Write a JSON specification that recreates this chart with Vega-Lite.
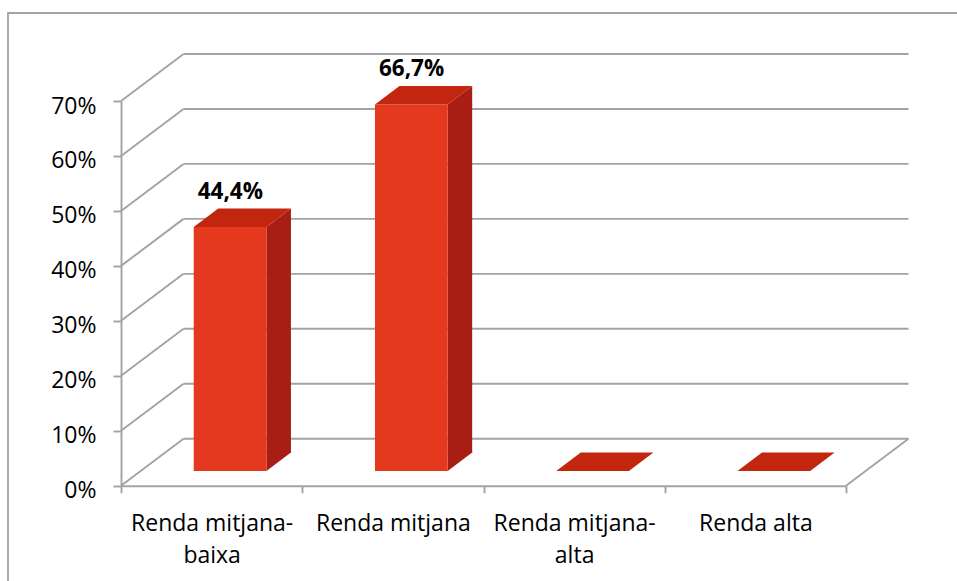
{
"$schema":"https://vega.github.io/schema/vega-lite/v6.json",
"width":950,"height":569,
"autosize":{"type":"none"},
"padding":{"left":8,"top":13,"right":-1,"bottom":-1},
"background":"white",
"config":{"view":{"stroke":"#a3a3a3","strokeWidth":1.8,"fill":null},
"locale":{"number":{"decimal":",","thousands":".","grouping":[3],"currency":["","€"]}}},
"datasets":{
"bars":[{"cat":"Renda mitjana-baixa","value":0.444},{"cat":"Renda mitjana","value":0.667},{"cat":"Renda mitjana-alta","value":0},{"cat":"Renda alta","value":0}],
"grid":[{"pct":0},{"pct":0.1},{"pct":0.2},{"pct":0.3},{"pct":0.4},{"pct":0.5},{"pct":0.6},{"pct":0.7}],
"floor":[{"pct":0}]
},
"layer":[
{"data":{"name":"grid"},
 "mark":{"type":"rule","stroke":"#a3a3a3","strokeWidth":1.9,"xOffset":-28.1,"x2Offset":153.1,"yOffset":-47},
 "encoding":{
  "x":{"datum":"Renda mitjana-baixa","type":"nominal","title":null,"sort":null,"scale":{"domain":["Renda mitjana-baixa","Renda mitjana","Renda mitjana-alta","Renda alta"],"range":[113,838],"padding":0},
   "axis":{"orient":"bottom","offset":-96.3,"title":null,"domainColor":"#a3a3a3","domainWidth":1.9,"tickColor":"#a3a3a3","tickWidth":1.9,"tickSize":7,"tickBand":"extent","labelAngle":0,"labelFont":"Open Sans","labelFontSize":23,"labelColor":"#000000","labelPadding":20,"labelLineHeight":31.5,"labelLimit":400,"grid":false,"labelExpr":"datum.value=='Renda mitjana-baixa'?['Renda mitjana-','baixa']:datum.value=='Renda mitjana-alta'?['Renda mitjana-','alta']:datum.value"}},
  "x2":{"datum":"Renda alta"},
  "y":{"field":"pct","type":"quantitative","title":null,"scale":{"domain":[0,0.7],"range":[472.7,88],"nice":false,"zero":false},
   "axis":{"orient":"left","offset":-113,"title":null,"values":[0,0.1,0.2,0.3,0.4,0.5,0.6,0.7],"format":".0%","domainColor":"#a3a3a3","domainWidth":1.9,"tickColor":"#a3a3a3","tickWidth":1.9,"tickSize":8,"labelFont":"Open Sans","labelFontSize":23,"labelColor":"#000000","labelPadding":17,"labelOffset":5,"grid":false}}
 }},
{"data":{"name":"grid"},
 "mark":{"type":"rule","stroke":"#a3a3a3","strokeWidth":1.9,"xOffset":-90.6,"x2Offset":-28.1,"y2Offset":-47},
 "encoding":{
  "x":{"datum":"Renda mitjana-baixa","type":"nominal","title":null,"sort":null,"scale":{"domain":["Renda mitjana-baixa","Renda mitjana","Renda mitjana-alta","Renda alta"],"range":[113,838],"padding":0}},
  "x2":{"datum":"Renda mitjana-baixa"},
  "y":{"field":"pct","type":"quantitative","title":null,"scale":{"domain":[0,0.7],"range":[472.7,88],"nice":false,"zero":false}},
  "y2":{"field":"pct"}
 }},
{"data":{"name":"floor"},
 "mark":{"type":"rule","stroke":"#a3a3a3","strokeWidth":1.9,"xOffset":90.6,"x2Offset":153.1,"y2Offset":-47},
 "encoding":{
  "x":{"datum":"Renda alta","type":"nominal","title":null,"sort":null,"scale":{"domain":["Renda mitjana-baixa","Renda mitjana","Renda mitjana-alta","Renda alta"],"range":[113,838],"padding":0}},
  "x2":{"datum":"Renda alta"},
  "y":{"field":"pct","type":"quantitative","title":null,"scale":{"domain":[0,0.7],"range":[472.7,88],"nice":false,"zero":false}},
  "y2":{"field":"pct"}
 }},
{"data":{"name":"bars"},"transform":[{"filter":"datum.value>0"}],
 "mark":{"type":"bar","color":"#a81d14","size":24.5,"xOffset":67.05,"yOffset":-14.7,"y2Offset":-33.2},
 "encoding":{
  "x":{"field":"cat","type":"nominal","title":null,"sort":null,"scale":{"domain":["Renda mitjana-baixa","Renda mitjana","Renda mitjana-alta","Renda alta"],"range":[113,838],"padding":0}},
  "y":{"field":"value","type":"quantitative","title":null,"scale":{"domain":[0,0.7],"range":[472.7,88],"nice":false,"zero":false}},
  "y2":{"datum":0}
 }},
{"data":{"name":"bars"},"transform":[{"filter":"datum.value>0"}],
 "mark":{"type":"point","filled":true,"opacity":1,"size":4,"color":"#a81d14","shape":"M54.8,-14.7L79.3,-33.2L79.3,-34.5L54.8,-34.5Z"},
 "encoding":{
  "x":{"field":"cat","type":"nominal","title":null,"sort":null,"scale":{"domain":["Renda mitjana-baixa","Renda mitjana","Renda mitjana-alta","Renda alta"],"range":[113,838],"padding":0}},
  "y":{"datum":0,"type":"quantitative","title":null,"scale":{"domain":[0,0.7],"range":[472.7,88],"nice":false,"zero":false}}
 }},
{"data":{"name":"bars"},"transform":[{"filter":"datum.value>0"}],
 "mark":{"type":"point","filled":true,"opacity":1,"size":4,"color":"#a81d14","shape":"M54.8,-14.7L54.8,-13.4L79.3,-13.4L79.3,-33.2Z"},
 "encoding":{
  "x":{"field":"cat","type":"nominal","title":null,"sort":null,"scale":{"domain":["Renda mitjana-baixa","Renda mitjana","Renda mitjana-alta","Renda alta"],"range":[113,838],"padding":0}},
  "y":{"field":"value","type":"quantitative","title":null,"scale":{"domain":[0,0.7],"range":[472.7,88],"nice":false,"zero":false}}
 }},
{"data":{"name":"bars"},"transform":[{"filter":"datum.value>0"}],
 "mark":{"type":"bar","color":"#e4381f","size":72.7,"xOffset":18.45,"yOffset":-14.7,"y2Offset":-14.7},
 "encoding":{
  "x":{"field":"cat","type":"nominal","title":null,"sort":null,"scale":{"domain":["Renda mitjana-baixa","Renda mitjana","Renda mitjana-alta","Renda alta"],"range":[113,838],"padding":0}},
  "y":{"field":"value","type":"quantitative","title":null,"scale":{"domain":[0,0.7],"range":[472.7,88],"nice":false,"zero":false}},
  "y2":{"datum":0}
 }},
{"data":{"name":"bars"},
 "mark":{"type":"point","filled":true,"opacity":1,"size":4,"color":"#c3260f","shape":"M-17.9,-14.7L54.8,-14.7L79.3,-33.2L6.6,-33.2Z"},
 "encoding":{
  "x":{"field":"cat","type":"nominal","title":null,"sort":null,"scale":{"domain":["Renda mitjana-baixa","Renda mitjana","Renda mitjana-alta","Renda alta"],"range":[113,838],"padding":0}},
  "y":{"field":"value","type":"quantitative","title":null,"scale":{"domain":[0,0.7],"range":[472.7,88],"nice":false,"zero":false}}
 }},
{"data":{"name":"bars"},"transform":[{"filter":"datum.value>0"}],
 "mark":{"type":"text","font":"Open Sans","fontSize":22.5,"fontWeight":"bold","color":"#000000","align":"center","baseline":"alphabetic","xOffset":18.7,"yOffset":-43},
 "encoding":{
  "x":{"field":"cat","type":"nominal","title":null,"sort":null,"scale":{"domain":["Renda mitjana-baixa","Renda mitjana","Renda mitjana-alta","Renda alta"],"range":[113,838],"padding":0}},
  "y":{"field":"value","type":"quantitative","title":null,"scale":{"domain":[0,0.7],"range":[472.7,88],"nice":false,"zero":false}},
  "text":{"field":"value","type":"quantitative","format":".1%"}
 }}
]
}
